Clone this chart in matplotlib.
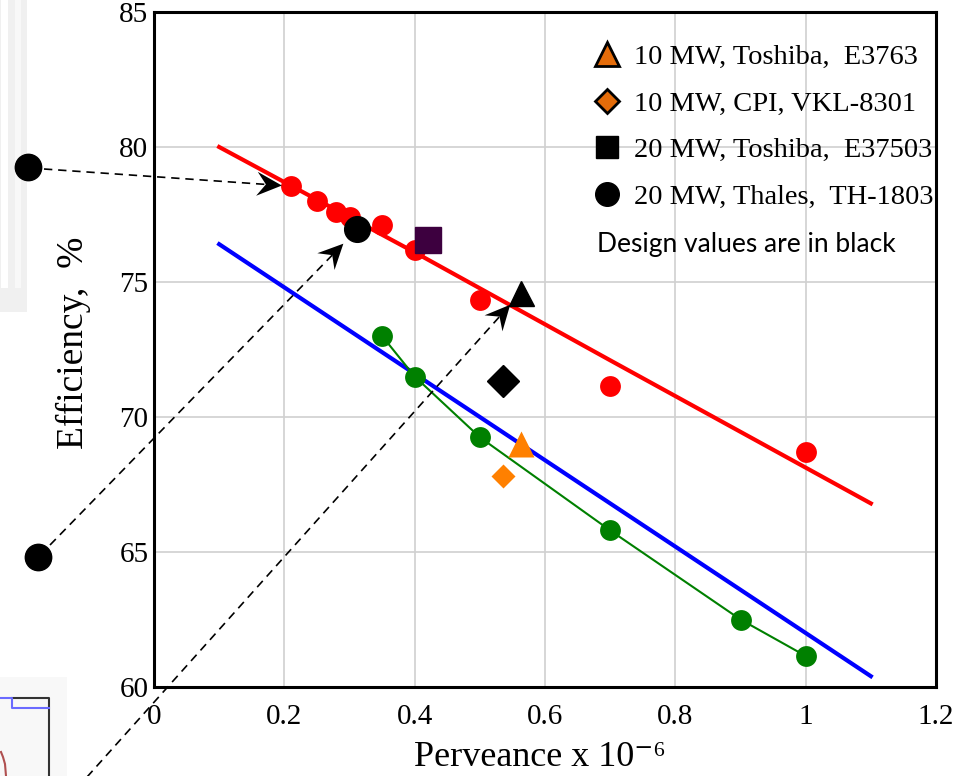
import numpy as np
import matplotlib
matplotlib.use("Agg")
import matplotlib.pyplot as plt
from matplotlib.lines import Line2D
from matplotlib.patches import Rectangle, Polygon
from matplotlib.transforms import IdentityTransform

plt.rcParams['font.family'] = ['Liberation Serif', 'DejaVu Serif']

# fitted trend lines
red_line_x = [0.1, 0.4, 0.7, 1.1]
red_line_y = [80.0, 76.1, 72.1, 66.8]
blue_line_x = [0.1, 0.4, 0.7, 1.1]
blue_line_y = [76.4, 71.6, 66.8, 60.4]

# measured points
red_x = [0.21, 0.25, 0.28, 0.30, 0.35, 0.40, 0.50, 0.70, 1.00]
red_y = [78.55, 78.0, 77.6, 77.4, 77.1, 76.2, 74.35, 71.15, 68.7]
green_x = [0.35, 0.40, 0.50, 0.70, 0.90, 1.00]
green_y = [73.0, 71.5, 69.25, 65.8, 62.5, 61.15]

# tubes: measured (orange) and design (black)
toshiba10_x, toshiba10_y = 0.563, 69.0
cpi10_x, cpi10_y = 0.535, 67.8
toshiba10_design_y = 74.6
cpi10_design_y = 71.35
toshiba20_x, toshiba20_y = 0.42, 76.55
thales20_x, thales20_y = 0.312, 76.95

legend_labels = ['10 MW, Toshiba,  E3763', '10 MW, CPI, VKL-8301',
                 '20 MW, Toshiba,  E37503', '20 MW, Thales,  TH-1803']
note_text = 'Design values are in black'
xticks = [0, 0.2, 0.4, 0.6, 0.8, 1.0, 1.2]
xtick_labels = ['0', '0.2', '0.4', '0.6', '0.8', '1', '1.2']
yticks = [60, 65, 70, 75, 80, 85]

ORANGE = '#ff8000'
LEG_ORANGE = '#e46c0a'

fig = plt.figure(figsize=(9.75, 7.76), dpi=100)
ax = fig.add_axes([154 / 975, 1 - 687 / 776, 782 / 975, 675 / 776])

ax.plot(red_line_x, red_line_y, color='#ff0000', lw=3, zorder=2)
ax.plot(blue_line_x, blue_line_y, color='#0000ff', lw=3, zorder=2)
ax.plot(green_x, green_y, color='#008000', lw=1.5, marker='o', ms=15,
        mec='none', zorder=3)
ax.plot(red_x, red_y, ls='none', color='#ff0000', marker='o', ms=15,
        mec='none', zorder=3)

ax.plot(toshiba10_x, toshiba10_y, ls='none', marker='^', ms=19, color=ORANGE,
        mec='none', zorder=4)
ax.plot(cpi10_x, cpi10_y, ls='none', marker='D', ms=12.5, color=ORANGE,
        mec='none', zorder=4)
ax.plot(toshiba10_x, toshiba10_design_y, ls='none', marker='^', ms=18,
        color='black', zorder=4)
ax.plot(cpi10_x, cpi10_design_y, ls='none', marker='D', ms=16,
        color='black', zorder=4)
ax.plot(toshiba20_x, toshiba20_y, ls='none', marker='s', ms=19,
        color='#3d003f', zorder=4)
ax.plot(thales20_x, thales20_y, ls='none', marker='o', ms=18.5,
        color='black', zorder=5)

ax.set_xlim(0, 1.2)
ax.set_ylim(60, 85)
ax.set_xticks(xticks, xtick_labels)
ax.set_yticks(yticks)
ax.tick_params(length=0, labelsize=21)
ax.tick_params(axis='x', pad=12)
ax.tick_params(axis='y', pad=4)
ax.grid(True, color='#d0d0d0', lw=1.2)
ax.set_axisbelow(True)
for sp in ax.spines.values():
    sp.set_linewidth(2.2)

ax.set_xlabel('Perveance x 10\u207b\u2076', fontsize=26)
ax.xaxis.set_label_coords(0.494, -0.08)
ax.set_ylabel('Efficiency,  %', fontsize=27)
ax.yaxis.set_label_coords(-0.08, 0.51)

handles = [
    Line2D([], [], ls='none', marker='^', ms=17, mfc=LEG_ORANGE, mec='black', mew=2),
    Line2D([], [], ls='none', marker='D', ms=12, mfc=LEG_ORANGE, mec='black', mew=2),
    Line2D([], [], ls='none', marker='s', ms=16, color='black'),
    Line2D([], [], ls='none', marker='o', ms=17, color='black'),
]
ax.legend(handles, legend_labels, loc='upper left', bbox_to_anchor=(0.561, 0.952),
          frameon=False, fontsize=20.5, handlelength=1.0, handletextpad=0.45,
          borderpad=0, borderaxespad=0, labelspacing=0.72)
ax.text(0.566, 0.655, note_text, transform=ax.transAxes, fontsize=19,
        family=['Lato', 'DejaVu Sans'], va='center', ha='left')


def dashed_arrow(start_px, target, gap_px, head_len=25, head_w=12, notch=9):
    # dashed leader from a point in figure pixels to a data point,
    # finished with a notched arrowhead
    tx, ty = ax.transData.transform(target)
    sx, sy = start_px
    d = np.hypot(tx - sx, ty - sy)
    ux, uy = (tx - sx) / d, (ty - sy) / d
    nx, ny = -uy, ux
    ex, ey = tx - ux * gap_px, ty - uy * gap_px
    bx, by = ex - ux * (head_len - notch), ey - uy * (head_len - notch)
    fig.add_artist(Line2D([sx, bx], [sy, by], transform=IdentityTransform(),
                          color='black', lw=1.2, ls=(0, (5, 3.5)), zorder=6))
    head = [(ex, ey),
            (ex - ux * head_len + nx * head_w, ey - uy * head_len + ny * head_w),
            (bx, by),
            (ex - ux * head_len - nx * head_w, ey - uy * head_len - ny * head_w)]
    fig.add_artist(Polygon(head, closed=True, transform=IdentityTransform(),
                           color='black', lw=0, zorder=6))


# leftover pieces of neighbouring figures
fig.add_artist(Rectangle((0, 464), 27, 312, transform=IdentityTransform(),
                         facecolor='#f0f0f0', edgecolor='none', zorder=0))
fig.add_artist(Rectangle((1, 488), 7, 288, transform=IdentityTransform(),
                         facecolor='#ffffff', edgecolor='none', zorder=0))
fig.add_artist(Rectangle((15, 488), 6, 288, transform=IdentityTransform(),
                         facecolor='#f8f8f8', edgecolor='none', zorder=0))
fig.add_artist(Rectangle((0, 0), 67, 99, transform=IdentityTransform(),
                         facecolor='#f8f8f8', edgecolor='none', zorder=0))
fig.add_artist(Line2D([12, 49, 49], [78, 78, 0], transform=IdentityTransform(),
                      color='#333333', lw=1.5, zorder=1))
fig.add_artist(Line2D([0, 12, 12, 49], [78, 78, 68, 68], transform=IdentityTransform(),
                      color='#6a6aff', lw=1.5, zorder=1))
fig.add_artist(Line2D([1, 3, 5, 6], [24, 19, 12, 0], transform=IdentityTransform(),
                      color='#b05050', lw=1.5, zorder=1))

# markers outside the axes with leaders into the plot
fig.add_artist(Line2D([28], [609], transform=IdentityTransform(), marker='o',
                      ms=19, color='black', zorder=7))
fig.add_artist(Line2D([38], [219], transform=IdentityTransform(), marker='o',
                      ms=19, color='black', zorder=7))
dashed_arrow((44, 607), (red_x[0], red_y[0]), 9)
dashed_arrow((50, 231), (thales20_x, thales20_y), 20)
dashed_arrow((70, -20), (toshiba10_x, toshiba10_design_y), 16)

fig.savefig('out.png', dpi=100)
